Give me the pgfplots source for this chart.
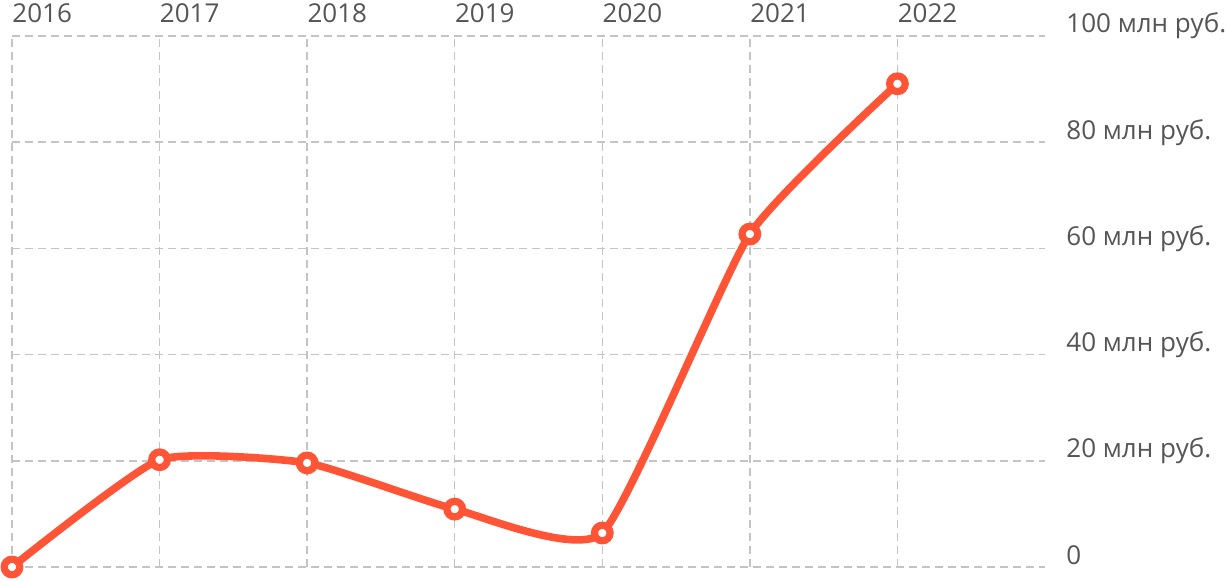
\documentclass[border=0pt]{standalone}
\usepackage{pgfplots}
\pgfplotsset{compat=1.18}
\usepackage{fontspec}
\setmainfont{Open Sans}
\definecolor{lineor}{RGB}{255,84,54}
\definecolor{gridc}{RGB}{196,196,196}
\definecolor{txt}{RGB}{85,85,85}
\begin{document}
\begin{tikzpicture}
\begin{axis}[
  at={(0pt,0pt)}, anchor=south west,
  scale only axis, width=516.5pt, height=265.5pt,
  xmin=2016, xmax=2023, ymin=0, ymax=100,
  clip=false,
  axis line style={draw=none},
  major tick length=0pt,
  xtick={2016,2017,2018,2019,2020,2021,2022},
  xticklabels={2016,2017,2018,2019,2020,2021,2022},
  xticklabel pos=upper,
  xticklabel style={anchor=south west, inner sep=0pt, yshift=6.5pt, xshift=0pt, font=\fontsize{13pt}{15pt}\selectfont, text=txt},
  ytick={0,20,40,60,80,100},
  yticklabels={0,20 млн руб.,40 млн руб.,60 млн руб.,80 млн руб.,100 млн руб.},
  yticklabel pos=right,
  yticklabel style={anchor=base west, inner sep=0pt, xshift=10.5pt, yshift=1.5pt, font=\fontsize{13pt}{15pt}\selectfont, text=txt},
  /pgf/number format/assume math mode=true,
  grid=major,
  major grid style={gridc, line width=0.7pt, dash pattern=on 4pt off 2.5pt},
]
\addplot[lineor, line width=3.8pt, smooth, tension=0.3, mark=*, mark size=3.9pt, mark options={fill=white, draw=lineor, line width=3.6pt}]
coordinates {(2016,0) (2017,20.2) (2018,19.6) (2019,10.9) (2020,6.4) (2021,62.7) (2022,91.0)};
\end{axis}
\pgfresetboundingbox
\path (-6pt,-6.5pt) rectangle (607pt,283.5pt);
\end{tikzpicture}
\end{document}
